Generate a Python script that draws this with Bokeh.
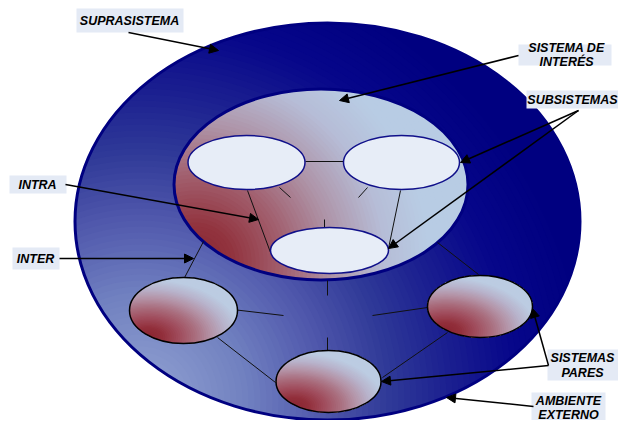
import numpy as np
from bokeh.plotting import figure
from bokeh.models import Range1d, Arrow, NormalHead, ColumnDataSource
from bokeh.core.properties import value
from bokeh.embed import file_html
from bokeh.resources import INLINE

# ---------------- diagram data ----------------
outer_ellipse = [327, 221, 505, 397]          # cx, cy, w, h
inner_ellipse = [320.5, 184, 294, 191]

sub_cx = [246, 401, 329]
sub_cy = [162, 162, 250]
sub_w = [117, 116, 118]
sub_h = [54, 54, 46]

peer_cx = [183, 479.5, 328]
peer_cy = [310, 306, 381]
peer_w = [108, 105, 105]
peer_h = [66, 62, 62]

link_x0 = [305, 279, 367, 247, 400, 324, 327, 327, 182, 437, 232, 427, 217, 447]
link_y0 = [161, 187, 187, 190, 190, 219, 280, 337, 281, 242, 309, 307, 337, 332]
link_x1 = [343, 290, 358, 270, 388, 324, 327, 327, 203, 478, 283, 372, 275, 382]
link_y1 = [161, 197, 197, 252, 248, 227, 295, 351, 241, 274, 315, 315, 382, 377]

arrow_x0 = [128, 518, 578, 578, 65, 59, 548, 548, 533]
arrow_y0 = [32, 55, 110, 110, 184, 258, 365, 365, 406]
arrow_x1 = [218, 339, 460, 388, 258, 193, 532, 381, 446]
arrow_y1 = [50, 100, 162, 248, 219, 258, 308, 381, 397]

box_left = [76, 518, 526, 9, 12, 547, 531]
box_right = [183, 611, 618, 66, 59, 618, 605]
box_top = [8, 44, 90, 175, 247, 349, 392]
box_bottom = [32, 65, 108, 193, 269, 380, 420]

label_text = ["SUPRASISTEMA", "SISTEMA DE", "INTERÉS", "SUBSISTEMAS", "INTRA",
              "INTER", "SISTEMAS", "PARES", "AMBIENTE", "EXTERNO"]
label_x = [129, 566, 566, 572, 37, 35, 582, 582, 568, 568]
label_y = [20, 47, 61, 99, 184, 258, 357, 372, 400, 414]

# ---------------- helpers ----------------
def ellipse_pts(cx, cy, w, h, n=160):
    t = np.linspace(0, 2 * np.pi, n, endpoint=False)
    return list(zip(cx + w / 2 * np.cos(t), cy + h / 2 * np.sin(t)))


def _intersect(p, q, a, b):
    x1, y1 = p; x2, y2 = q; x3, y3 = a; x4, y4 = b
    den = (x1 - x2) * (y3 - y4) - (y1 - y2) * (x3 - x4)
    if abs(den) < 1e-12:
        return q
    t = ((x1 - x3) * (y3 - y4) - (y1 - y3) * (x3 - x4)) / den
    return (x1 + t * (x2 - x1), y1 + t * (y2 - y1))


def clip(subject, clipper):
    out = list(subject)
    n = len(clipper)
    for i in range(n):
        a = clipper[i]; b = clipper[(i + 1) % n]
        inp = out; out = []
        if not inp:
            break
        def inside(p):
            return (b[0] - a[0]) * (p[1] - a[1]) - (b[1] - a[1]) * (p[0] - a[0]) >= 0
        for j in range(len(inp)):
            cur = inp[j]; prev = inp[j - 1]
            if inside(cur):
                if not inside(prev):
                    out.append(_intersect(prev, cur, a, b))
                out.append(cur)
            elif inside(prev):
                out.append(_intersect(prev, cur, a, b))
    return out


def hex2rgb(h):
    h = h.lstrip("#")
    return np.array([int(h[i:i + 2], 16) for i in (0, 2, 4)], dtype=float)


def color_at(r, stops):
    pos = [s[0] for s in stops]
    cols = [hex2rgb(s[1]) for s in stops]
    if r <= pos[0]:
        c = cols[0]
    elif r >= pos[-1]:
        c = cols[-1]
    else:
        k = np.searchsorted(pos, r) - 1
        f = (r - pos[k]) / (pos[k + 1] - pos[k])
        c = cols[k] * (1 - f) + cols[k + 1] * f
    return "#%02x%02x%02x" % tuple(int(round(v)) for v in c)


def radial_fill(shape, center, stops, r_max, step, sx=1.0, sy=1.0):
    xs, ys, cs = [], [], []
    r = r_max
    while r > 0:
        circ = ellipse_pts(center[0], center[1], 2 * r * sx, 2 * r * sy, 120)
        poly = clip(circ, shape)
        if len(poly) >= 3:
            xs.append([p[0] for p in poly])
            ys.append([p[1] for p in poly])
            cs.append(color_at(r, stops))
        r -= step
    return xs, ys, cs


# ---------------- figure ----------------
p = figure(width=618, height=420, x_range=Range1d(0, 618), y_range=Range1d(420, 0),
           x_axis_type=None, y_axis_type=None, toolbar_location=None,
           output_backend="svg", min_border=0)
p.grid.visible = False
p.outline_line_color = None
p.background_fill_color = "white"
p.border_fill_color = "white"

# outer ellipse (suprasistema / ambiente)
ocx, ocy, ow, oh = outer_ellipse
outer_shape = ellipse_pts(ocx, ocy, ow, oh, 200)
outer_stops = [(0, "#98a6d8"), (40, "#8898cc"), (110, "#7080c0"), (185, "#5058ac"),
               (250, "#303a98"), (310, "#1c2090"), (380, "#06068a"), (450, "#000080"),
               (900, "#000080")]
xs, ys, cs = radial_fill(outer_shape, (140, 400), outer_stops, 720, 6)
p.patches(xs, ys, fill_color=cs, line_color=None)
p.ellipse(x=[ocx], y=[ocy], width=[ow], height=[oh], fill_color=None,
          line_color="#000080", line_width=3)

# inner ellipse (sistema de interés)
icx, icy, iw, ih = inner_ellipse
inner_shape = ellipse_pts(icx, icy, iw, ih, 200)
inner_stops = [(0, "#86242f"), (40, "#92343f"), (90, "#a2606f"), (140, "#ae94a8"),
               (190, "#b6bcd6"), (235, "#b8cce4"), (600, "#b8cce4")]
xs, ys, cs = radial_fill(inner_shape, (195, 262), inner_stops, 420, 4)
p.patches(xs, ys, fill_color=cs, line_color=None)
p.ellipse(x=[icx], y=[icy], width=[iw], height=[ih], fill_color=None,
          line_color="#000080", line_width=3)

# connection lines
p.segment(x0=link_x0, y0=link_y0, x1=link_x1, y1=link_y1, line_color="#111111", line_width=1)

# subsystems
p.ellipse(x=sub_cx, y=sub_cy, width=sub_w, height=sub_h, fill_color="#e7edf7",
          line_color="#10108a", line_width=1.5)

# peer systems (elliptical radial gradient from bottom-left)
peer_stops = [(0, "#8a2430"), (0.15, "#922f3b"), (0.3, "#a04c5c"), (0.46, "#aa7080"),
              (0.6, "#b494a8"), (0.74, "#b8b4cc"), (0.88, "#bccce2"), (3.0, "#bccce2")]
for cx, cy, w, h in zip(peer_cx, peer_cy, peer_w, peer_h):
    shape = ellipse_pts(cx, cy, w, h, 140)
    xs, ys, cs = radial_fill(shape, (cx - 0.33 * w, cy + 0.4 * h), peer_stops, 1.4, 0.02,
                             sx=w, sy=h)
    p.patches(xs, ys, fill_color=cs, line_color=None)
p.ellipse(x=peer_cx, y=peer_cy, width=peer_w, height=peer_h, fill_color=None,
          line_color="#000000", line_width=1.5)

# label boxes and texts
p.quad(left=box_left, right=box_right, top=box_top, bottom=box_bottom,
       fill_color="#e4eaf5", line_color=None)
p.text(x=label_x, y=label_y, text=label_text, text_align="center", text_baseline="middle",
       text_font=value("Liberation Sans"), text_font_style="bold italic",
       text_font_size="12.5px", text_color="#000000")

# arrows
src = ColumnDataSource(dict(x0=arrow_x0, y0=arrow_y0, x1=arrow_x1, y1=arrow_y1))
p.add_layout(Arrow(end=NormalHead(size=9, fill_color="black", line_color="black"),
                   x_start="x0", y_start="y0", x_end="x1", y_end="y1", source=src,
                   line_color="black", line_width=1.5))

open("out.html", "w").write(file_html(p, INLINE))
